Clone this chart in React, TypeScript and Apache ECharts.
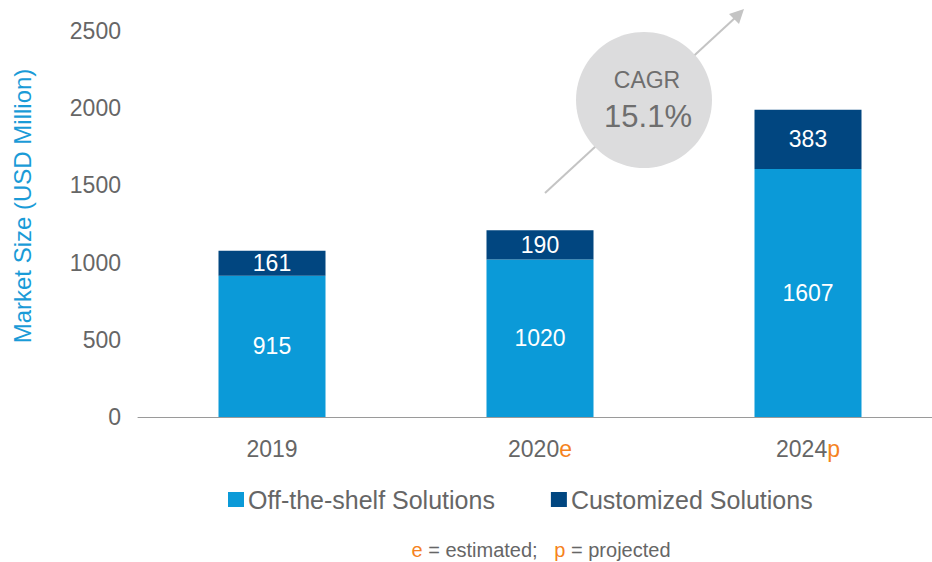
import React, { useEffect, useRef } from "react";
import * as echarts from "echarts";

const categories = ["2019", "2020e", "2024p"];
const offShelf = [915, 1020, 1607];
const customized = [161, 190, 383];
const yTicks = [0, 500, 1000, 1500, 2000, 2500];
const seriesNames = ["Off-the-shelf Solutions", "Customized Solutions"];

const FONT = "Liberation Sans, Arial, sans-serif";
const GRAY = "#666666";
const ORANGE = "#F58220";

export default function App() {
  const ref = useRef<HTMLDivElement>(null);
  useEffect(() => {
    if (!ref.current) return;
    const chart = echarts.init(ref.current, null, { renderer: "svg" });
    chart.setOption({
      animation: false,
      textStyle: { fontFamily: FONT },
      grid: { left: 138, top: 31, right: -10, bottom: 145, outerBoundsMode: "none", containLabel: false },
      xAxis: {
        type: "category",
        data: categories,
        axisLine: { lineStyle: { color: "#9a9a9a", width: 1 } },
        axisTick: { show: false },
        axisLabel: {
          fontSize: 23,
          color: GRAY,
          margin: 20,
          formatter: (v: string) => {
            const m = v.match(/^(\d+)([a-z]?)$/);
            if (m && m[2]) return `${m[1]}{o|${m[2]}}`;
            return v;
          },
          rich: { o: { color: ORANGE, fontSize: 23, fontFamily: FONT } },
        },
      },
      yAxis: {
        type: "value",
        min: yTicks[0],
        max: yTicks[yTicks.length - 1],
        interval: 500,
        axisLine: { show: false },
        axisTick: { show: false },
        splitLine: { show: false },
        axisLabel: { fontSize: 23, color: GRAY, margin: 17, formatter: (v: number) => String(v) },
      },
      legend: {
        data: seriesNames,
        left: 223,
        top: 482,
        itemWidth: 16,
        itemHeight: 15,
        itemGap: 56,
        icon: "rect",
        textStyle: { fontSize: 25, color: GRAY, fontFamily: FONT, padding: [0, 0, 0, -1] },
      },
      series: [
        {
          name: seriesNames[0],
          type: "bar",
          stack: "total",
          data: offShelf,
          barWidth: 107,
          itemStyle: { color: "#0B9AD8" },
          label: { show: true, position: "inside", color: "#fff", fontSize: 23, fontFamily: FONT },
        },
        {
          name: seriesNames[1],
          type: "bar",
          stack: "total",
          data: customized,
          barWidth: 107,
          itemStyle: { color: "#014680" },
          label: { show: true, position: "inside", color: "#fff", fontSize: 23, fontFamily: FONT },
        },
      ],
      graphic: [
        {
          type: "text",
          x: 22,
          y: 206,
          rotation: Math.PI / 2,
          style: {
            text: "Market Size (USD Million)",
            fill: "#1A9BD7",
            fontSize: 24,
            fontFamily: FONT,
            align: "center",
            verticalAlign: "middle",
          },
        },
        {
          type: "line",
          shape: { x1: 545, y1: 193, x2: 736, y2: 17 },
          style: { stroke: "#c4c4c4", lineWidth: 2 },
          z: 1,
        },
        {
          type: "polygon",
          shape: { points: [[744, 9], [729, 14], [739, 24]] },
          style: { fill: "#c4c4c4" },
          z: 1,
        },
        {
          type: "circle",
          shape: { cx: 644, cy: 100, r: 68 },
          style: { fill: "#DCDCDD" },
          z: 2,
        },
        {
          type: "text",
          x: 647,
          y: 80,
          style: { text: "CAGR", fill: "#6e6e6e", fontSize: 23, fontFamily: FONT, align: "center", verticalAlign: "middle" },
          z: 3,
        },
        {
          type: "text",
          x: 648,
          y: 116,
          style: { text: "15.1%", fill: "#6e6e6e", fontSize: 31, fontFamily: FONT, align: "center", verticalAlign: "middle" },
          z: 3,
        },
        {
          type: "text",
          x: 541,
          y: 550,
          style: {
            text: "{o|e} = estimated;   {o|p} = projected",
            fill: GRAY,
            fontSize: 20,
            fontFamily: FONT,
            align: "center",
            verticalAlign: "middle",
            rich: { o: { fill: ORANGE, fontSize: 20, fontFamily: FONT } },
          },
        },
      ],
    });
    return () => chart.dispose();
  }, []);
  return <div ref={ref} style={{ width: 932, height: 562, position: "absolute", left: 0, top: 0 }} />;
}
